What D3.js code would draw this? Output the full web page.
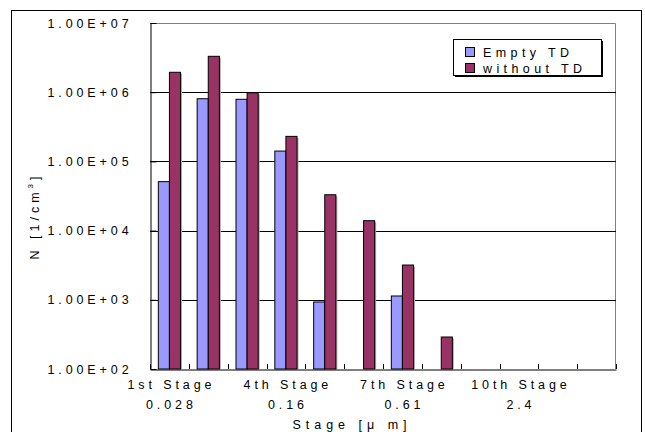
<!DOCTYPE html>
<html>
<head>
<meta charset="utf-8">
<script src="https://cdn.jsdelivr.net/npm/d3@7"></script>
<style>
  html, body { margin: 0; padding: 0; background: #fff; }
  svg { display: block; }
  text { font-family: "Liberation Sans", Arial, sans-serif; fill: #000; }
</style>
</head>
<body>
<svg id="chart" width="645" height="432"></svg>
<script>
// ---- data ----
const categories = ["1st Stage","2nd Stage","3rd Stage","4th Stage","5th Stage","6th Stage",
                    "7th Stage","8th Stage","9th Stage","10th Stage","11th Stage","12th Stage"];
const sizeLabels = ["0.028","","","0.16","","","0.61","","","2.4","",""];
const showLabel = [true,false,false,true,false,false,true,false,false,true,false,false];
const seriesNames = ["Empty TD","without TD"];
const seriesColors = ["#9999FF","#993366"];
const emptyTD   = [5.1e4, 8.05e5, 7.9e5, 1.41e5, 930, null, 1135, null, null, null, null, null];
const withoutTD = [1.94e6, 3.3e6, 9.8e5, 2.3e5, 3.3e4, 1.39e4, 3180, 290, null, null, null, null];
const yTicks = [1e2, 1e3, 1e4, 1e5, 1e6, 1e7];
const yTickLabels = ["1.00E+02","1.00E+03","1.00E+04","1.00E+05","1.00E+06","1.00E+07"];

// ---- layout ----
const svg = d3.select("#chart");
const X0 = 150, X1 = 616, Y0 = 23, Y1 = 369;
const LS = "3.9px";
const FS = 12.5;

svg.append("rect").attr("x", 0).attr("y", 0).attr("width", 645).attr("height", 432).attr("fill", "#fff");
// outer chart border
svg.append("rect").attr("x", 11.5).attr("y", 10.5).attr("width", 630).attr("height", 430)
  .attr("fill", "none").attr("stroke", "#000").attr("stroke-width", 1);

const x = d3.scaleBand().domain(categories).range([X0, X1]).paddingInner(0).paddingOuter(0);
const xs = d3.scaleBand().domain(seriesNames).range([0, x.bandwidth()]).paddingInner(0).paddingOuter(0.75);
const y = d3.scaleLog().domain([1e2, 1e7]).range([Y1, Y0]);

// plot area border (gray top/right)
svg.append("path").attr("d", `M${X0},${Y0 + 0.5}H${X1 - 0.5}V${Y1}`)
  .attr("fill", "none").attr("stroke", "#808080");

// gridlines
svg.append("g").selectAll("line").data(yTicks.slice(1, -1)).join("line")
  .attr("x1", X0).attr("x2", X1)
  .attr("y1", d => Math.round(y(d)) + 0.5).attr("y2", d => Math.round(y(d)) + 0.5)
  .attr("stroke", "#000").attr("stroke-width", 1);

// bars
const seriesData = [emptyTD, withoutTD];
seriesData.forEach((vals, si) => {
  const g = svg.append("g");
  const data = categories.map((c, i) => ({ c, v: vals[i] })).filter(d => d.v != null);
  // shadow
  g.selectAll("rect.sh").data(data).join("rect").attr("class", "sh")
    .attr("x", d => x(d.c) + xs(seriesNames[si]) + 1.5)
    .attr("y", d => y(d.v) + 1.5)
    .attr("width", xs.bandwidth())
    .attr("height", d => Y1 - y(d.v) - 1.5)
    .attr("fill", "#aaa");
  g.selectAll("rect.bar").data(data).join("rect").attr("class", "bar")
    .attr("x", d => x(d.c) + xs(seriesNames[si]))
    .attr("y", d => y(d.v))
    .attr("width", xs.bandwidth())
    .attr("height", d => Y1 - y(d.v))
    .attr("fill", seriesColors[si])
    .attr("stroke", "#000").attr("stroke-width", 1);
});

// y axis (inside ticks)
const yAxis = d3.axisLeft(y).tickValues(yTicks).tickSize(-6).tickSizeOuter(0)
  .tickFormat((d, i) => yTickLabels[i]).tickPadding(18);
const yg = svg.append("g").attr("transform", `translate(${X0 + 0.5},0)`).call(yAxis);
yg.select(".domain").attr("stroke", "#000");
yg.selectAll(".tick line").attr("stroke", "#000");
yg.selectAll(".tick text").attr("font-size", FS).style("letter-spacing", LS)
  .attr("font-family", "Liberation Sans, Arial, sans-serif");

// x axis (inside ticks at category boundaries)
const xAxis = d3.axisBottom(x).tickSize(0).tickSizeOuter(0).tickFormat("");
const xg = svg.append("g").attr("transform", `translate(0,${Y1 + 0.5})`).call(xAxis);
xg.select(".domain").attr("stroke", "#000");
const bounds = categories.map(c => x(c)).concat([x(categories[categories.length - 1]) + x.bandwidth()]);
svg.append("g").selectAll("line").data(bounds).join("line")
  .attr("x1", d => Math.round(d) + 0.5).attr("x2", d => Math.round(d) + 0.5)
  .attr("y1", Y1).attr("y2", Y1 - 5).attr("stroke", "#000");

// x tick labels
const lab = svg.append("g");
categories.forEach((c, i) => {
  if (!showLabel[i]) return;
  const cx = x(c) + x.bandwidth() / 2 + 2;
  lab.append("text").attr("x", cx).attr("y", 389).attr("text-anchor", "middle")
    .attr("font-size", FS).style("letter-spacing", LS).text(c);
  lab.append("text").attr("x", cx).attr("y", 409).attr("text-anchor", "middle")
    .attr("font-size", FS).style("letter-spacing", LS).text(sizeLabels[i]);
});

// axis titles
svg.append("text").attr("x", 352).attr("y", 429).attr("text-anchor", "middle")
  .attr("font-size", FS).style("letter-spacing", "5px").text("Stage [μ m]");

const yt = svg.append("text").attr("transform", "translate(39,216) rotate(-90)")
  .attr("text-anchor", "middle").attr("font-size", FS).style("letter-spacing", "4px");
yt.append("tspan").text("N [1/cm");
yt.append("tspan").attr("font-size", 8).attr("dy", -6).text("3");
yt.append("tspan").attr("dy", 6).text("]");

// legend
const lx = 453, ly = 39, lw = 148, lh = 36;
svg.append("rect").attr("x", lx + 2).attr("y", ly + 2).attr("width", lw).attr("height", lh).attr("fill", "#000");
svg.append("rect").attr("x", lx + 0.5).attr("y", ly + 0.5).attr("width", lw).attr("height", lh)
  .attr("fill", "#fff").attr("stroke", "#000");
seriesNames.forEach((n, i) => {
  const yy = ly + 8 + i * 16;
  svg.append("rect").attr("x", lx + 12.5).attr("y", yy + 0.5).attr("width", 9).attr("height", 9)
    .attr("fill", seriesColors[i]).attr("stroke", "#000");
  svg.append("text").attr("x", lx + 30).attr("y", yy + 10).attr("font-size", FS)
    .style("letter-spacing", "4.4px").text(n);
});
</script>
</body>
</html>
